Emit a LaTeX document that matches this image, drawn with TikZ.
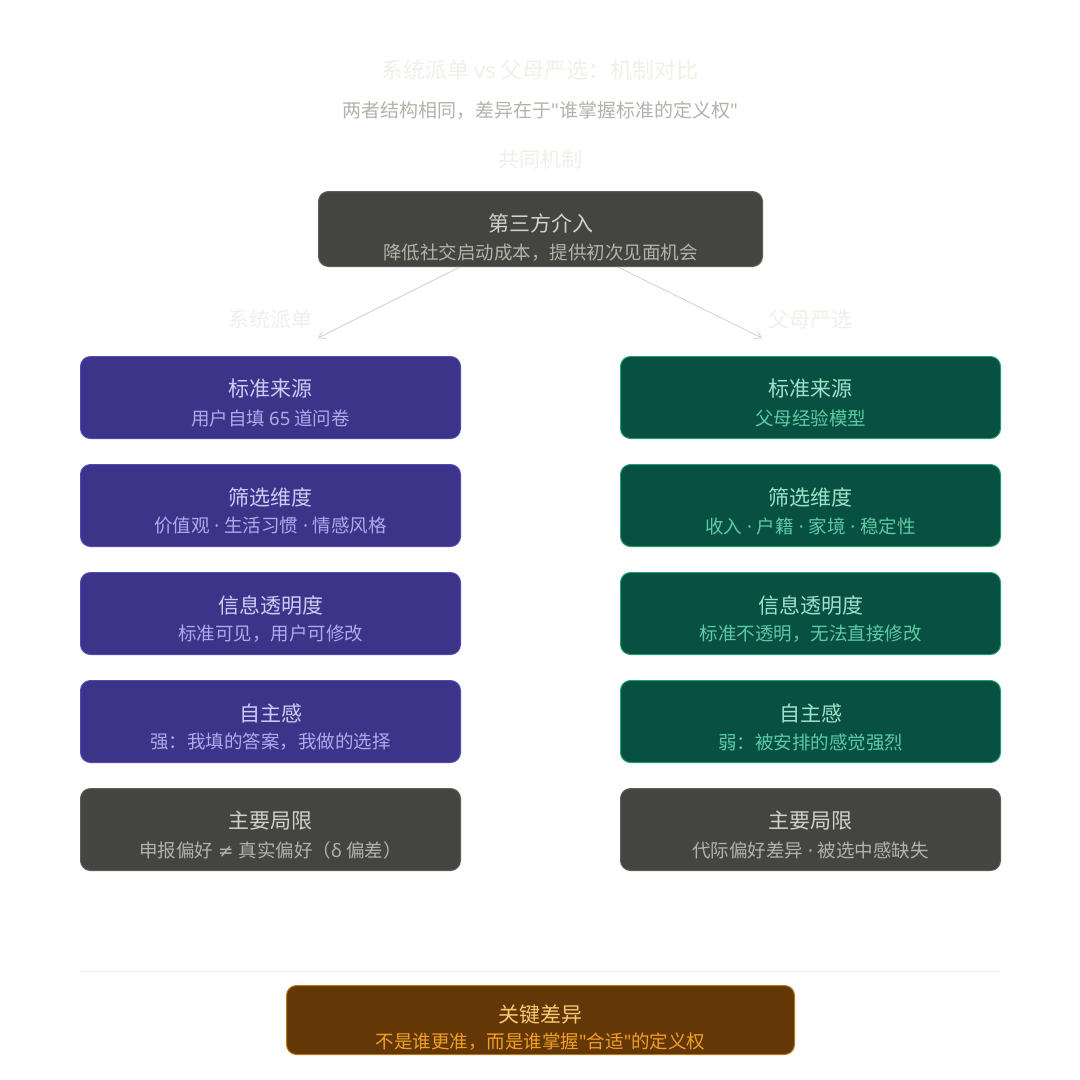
\documentclass[tikz,border=0pt]{standalone}
\usepackage{fontspec}
\setmainfont{Noto Sans CJK SC}
\newfontfamily\lat{Noto Sans}
\newfontfamily\djv{DejaVu Sans}
\newcommand{\md}{{\lat\char"00B7}}
\newcommand{\qt}{{\lat\char"0022}}
\usetikzlibrary{arrows.meta,calc}
\definecolor{pfill}{HTML}{3C3489}
\definecolor{pline}{HTML}{534AB7}
\definecolor{ptitle}{HTML}{CECBF6}
\definecolor{psub}{HTML}{AFA9EC}
\definecolor{gfill}{HTML}{085041}
\definecolor{gline}{HTML}{1D9E75}
\definecolor{gtitle}{HTML}{9FE1CB}
\definecolor{gsub}{HTML}{5DCAA5}
\definecolor{kfill}{HTML}{444441}
\definecolor{kline}{HTML}{5F5E5A}
\definecolor{ktitle}{HTML}{D3D1C7}
\definecolor{ksub}{HTML}{B4B2A9}
\definecolor{bfill}{HTML}{633806}
\definecolor{bline}{HTML}{BA7517}
\definecolor{btitle}{HTML}{FAC775}
\definecolor{bsub}{HTML}{EF9F27}
\definecolor{faint}{HTML}{F1EFE8}
\definecolor{arrowc}{HTML}{D3D1C7}
\tikzset{
  card/.style={rectangle, rounded corners=10pt, line width=1pt, anchor=north west, inner sep=0pt},
  pcard/.style={card, fill=pfill, draw=pline, minimum width=380pt, minimum height=82pt},
  gcard/.style={card, fill=gfill, draw=gline, minimum width=380pt, minimum height=82pt},
  kcard/.style={card, fill=kfill, draw=kline, minimum width=380pt, minimum height=82pt},
  ttl/.style={inner sep=0pt, font=\fontsize{21}{25}\selectfont},
  sbt/.style={inner sep=0pt, font=\fontsize{18.5}{22}\selectfont},
  conn/.style={draw=arrowc, line width=0.8pt, -{Straight Barb[length=6pt,width=8pt]}},
}
\begin{document}
\begin{tikzpicture}[x=1pt,y=-1pt]
\useasboundingbox[fill=white] (0,0) rectangle (1080,1080);

% titles
\node[inner sep=0pt, text=faint, font=\fontsize{22}{26}\selectfont] (title) at (540,70) {系统派单 {\lat vs} 父母严选：机制对比};
\node[inner sep=0pt, text=ksub, font=\fontsize{19}{23}\selectfont] (subtitle) at (540,110) {两者结构相同，差异在于\qt 谁掌握标准的定义权\qt};
\node[inner sep=0pt, text=faint, font=\fontsize{21}{25}\selectfont] (common) at (540,160) {共同机制};

% top box
\node[card, fill=kfill, draw=kline, minimum width=444pt, minimum height=75pt] (top) at (318,191) {};
\node[ttl, text=ktitle] (topt) at ($(top.north)+(0,32)$) {第三方介入};
\node[sbt, text=ksub] (tops) at ($(top.north)+(0,62)$) {降低社交启动成本，提供初次见面机会};

% branch labels
\node[inner sep=0pt, text=faint, font=\fontsize{21}{25}\selectfont] (lblL) at (270,320) {系统派单};
\node[inner sep=0pt, text=faint, font=\fontsize{21}{25}\selectfont] (lblR) at (810,320) {父母严选};

\coordinate (aL) at (318,338);
\coordinate (aR) at (762,338);
\draw[conn] ($(top.south west)+(142,0)$) -- (aL);
\draw[conn] ($(top.south west)+(300,0)$) -- (aR);

% left column
\node[pcard] (l1) at (80,356) {};
\node[ttl, text=ptitle] at ($(l1.north)+(0,33)$) {标准来源};
\node[sbt, text=psub] at ($(l1.north)+(0,62)$) {用户自填 {\lat 65} 道问卷};

\node[pcard] (l2) at (80,464) {};
\node[ttl, text=ptitle] at ($(l2.north)+(0,33)$) {筛选维度};
\node[sbt, text=psub] at ($(l2.north)+(0,62)$) {价值观{\lat\ }\md{\lat\ }生活习惯{\lat\ }\md{\lat\ }情感风格};

\node[pcard] (l3) at (80,572) {};
\node[ttl, text=ptitle] at ($(l3.north)+(0,33)$) {信息透明度};
\node[sbt, text=psub] at ($(l3.north)+(0,62)$) {标准可见，用户可修改};

\node[pcard] (l4) at (80,680) {};
\node[ttl, text=ptitle] at ($(l4.north)+(0,33)$) {自主感};
\node[sbt, text=psub] at ($(l4.north)+(0,62)$) {强：我填的答案，我做的选择};

\node[kcard] (l5) at (80,788) {};
\node[ttl, text=ktitle] at ($(l5.north)+(0,33)$) {主要局限};
\node[sbt, text=ksub] at ($(l5.north)+(0,62)$) {申报偏好{\lat\ }{\djv ≠}{\lat\ }真实偏好（{\lat δ} 偏差）};

% right column
\node[gcard] (r1) at (620,356) {};
\node[ttl, text=gtitle] at ($(r1.north)+(0,33)$) {标准来源};
\node[sbt, text=gsub] at ($(r1.north)+(0,62)$) {父母经验模型};

\node[gcard] (r2) at (620,464) {};
\node[ttl, text=gtitle] at ($(r2.north)+(0,33)$) {筛选维度};
\node[sbt, text=gsub] at ($(r2.north)+(0,62)$) {收入{\lat\ }\md{\lat\ }户籍{\lat\ }\md{\lat\ }家境{\lat\ }\md{\lat\ }稳定性};

\node[gcard] (r3) at (620,572) {};
\node[ttl, text=gtitle] at ($(r3.north)+(0,33)$) {信息透明度};
\node[sbt, text=gsub] at ($(r3.north)+(0,62)$) {标准不透明，无法直接修改};

\node[gcard] (r4) at (620,680) {};
\node[ttl, text=gtitle] at ($(r4.north)+(0,33)$) {自主感};
\node[sbt, text=gsub] at ($(r4.north)+(0,62)$) {弱：被安排的感觉强烈};

\node[kcard] (r5) at (620,788) {};
\node[ttl, text=ktitle] at ($(r5.north)+(0,33)$) {主要局限};
\node[sbt, text=ksub] at ($(r5.north)+(0,62)$) {代际偏好差异{\lat\ }\md{\lat\ }被选中感缺失};

% separator
\coordinate (sepL) at (80,971);
\coordinate (sepR) at (1000,971);
\draw[faint, line width=1pt] (sepL) -- (sepR);

% bottom box
\node[card, fill=bfill, draw=bline, minimum width=508pt, minimum height=69pt] (key) at (286,985) {};
\node[ttl, text=btitle] at ($(key.north)+(0,30)$) {关键差异};
\node[sbt, text=bsub] at ($(key.north)+(0,57)$) {不是谁更准，而是谁掌握\qt 合适\qt 的定义权};
\end{tikzpicture}
\end{document}
